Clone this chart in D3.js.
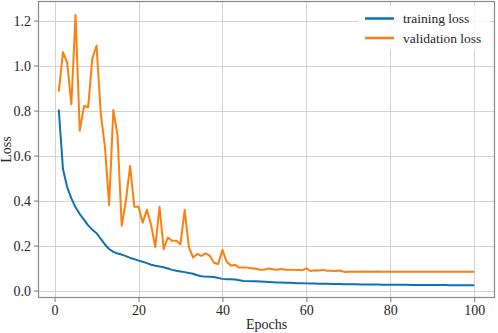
<!DOCTYPE html>
<html>
<head>
<meta charset="utf-8">
<script src="https://cdn.jsdelivr.net/npm/d3@7"></script>
<style>
  body { margin: 0; background: #fff; }
  text { font-family: "Liberation Serif", "Times New Roman", serif; }
</style>
</head>
<body>
<svg id="chart" width="498" height="333"></svg>
<script>
// training loss per epoch (1..100)
var trainLoss = [
  0.805, 0.54, 0.46, 0.41, 0.37, 0.34, 0.315, 0.29, 0.27, 0.255,
  0.23, 0.205, 0.185, 0.172, 0.165, 0.16, 0.153, 0.145, 0.14, 0.133,
  0.128, 0.122, 0.115, 0.11, 0.107, 0.104, 0.098, 0.092, 0.088, 0.085,
  0.082, 0.078, 0.075, 0.068, 0.064, 0.062, 0.061, 0.06, 0.056, 0.052,
  0.05, 0.05, 0.049, 0.046, 0.043, 0.042, 0.041, 0.041, 0.04, 0.039,
  0.038, 0.037, 0.036, 0.036, 0.035, 0.035, 0.034, 0.033, 0.033, 0.032,
  0.031, 0.031, 0.030, 0.030, 0.030, 0.029, 0.029, 0.029, 0.028, 0.028,
  0.028, 0.028, 0.027, 0.027, 0.027, 0.027, 0.027, 0.026, 0.026, 0.026,
  0.026, 0.026, 0.026, 0.026, 0.025, 0.025, 0.025, 0.025, 0.025, 0.025,
  0.025, 0.025, 0.025, 0.024, 0.024, 0.024, 0.024, 0.024, 0.024, 0.024
];
// validation loss per epoch (1..100)
var valLoss = [
  0.884, 1.06, 1.013, 0.828, 1.225, 0.71, 0.82, 0.815, 1.033, 1.088,
  0.788, 0.64, 0.38, 0.803, 0.69, 0.288, 0.40, 0.554, 0.373, 0.373,
  0.302, 0.359, 0.292, 0.193, 0.373, 0.184, 0.236, 0.221, 0.222, 0.206,
  0.359, 0.193, 0.147, 0.163, 0.154, 0.166, 0.154, 0.124, 0.118, 0.181,
  0.128, 0.111, 0.114, 0.102, 0.103, 0.102, 0.099, 0.097, 0.092, 0.093,
  0.098, 0.095, 0.093, 0.096, 0.092, 0.093, 0.092, 0.091, 0.09, 0.099,
  0.087, 0.09, 0.089, 0.092, 0.088, 0.088, 0.087, 0.089, 0.083, 0.084,
  0.084, 0.084, 0.084, 0.085, 0.084, 0.084, 0.085, 0.084, 0.084, 0.084,
  0.084, 0.084, 0.084, 0.084, 0.084, 0.084, 0.084, 0.084, 0.084, 0.084,
  0.084, 0.084, 0.084, 0.084, 0.084, 0.084, 0.084, 0.084, 0.084, 0.084
];
var epochs = d3.range(1, 101);
var xTicks = [0, 20, 40, 60, 80, 100];
var yTicks = [0.0, 0.2, 0.4, 0.6, 0.8, 1.0, 1.2];
var seriesNames = ["training loss", "validation loss"];
var seriesColors = ["#1071b5", "#ff7f0e"];

var svg = d3.select("#chart");
var pLeft = 38, pRight = 495, pTop = 1, pBottom = 298;
var serif = "'Liberation Serif', 'Times New Roman', serif";

var x = d3.scaleLinear().domain([-3.95, 104.95]).range([pLeft, pRight]);
var y = d3.scaleLinear().domain([-0.033, 1.287]).range([pBottom, pTop]);

// grid
var grid = svg.append("g").attr("stroke", "#d3d3d3").attr("stroke-width", 1);
grid.selectAll(".gx").data(xTicks).enter().append("line")
  .attr("x1", function(d) { return Math.round(x(d)) + 0.5; })
  .attr("x2", function(d) { return Math.round(x(d)) + 0.5; })
  .attr("y1", pTop).attr("y2", pBottom);
grid.selectAll(".gy").data(yTicks).enter().append("line")
  .attr("y1", function(d) { return Math.round(y(d)) + 0.5; })
  .attr("y2", function(d) { return Math.round(y(d)) + 0.5; })
  .attr("x1", pLeft).attr("x2", pRight);

// lines
var line = d3.line()
  .x(function(d, i) { return x(epochs[i]); })
  .y(function(d) { return y(d); });
[trainLoss, valLoss].forEach(function(s, k) {
  svg.append("path").datum(s)
    .attr("d", line)
    .attr("fill", "none")
    .attr("stroke", seriesColors[k])
    .attr("stroke-width", 2)
    .attr("stroke-linejoin", "round");
});

// axes
var xAxis = d3.axisBottom(x).tickValues(xTicks).tickFormat(d3.format("d")).tickSize(4).tickPadding(3);
var yAxis = d3.axisLeft(y).tickValues(yTicks).tickFormat(d3.format(".1f")).tickSize(4).tickPadding(3);
var gx = svg.append("g").attr("transform", "translate(0," + pBottom + ")").call(xAxis);
var gy = svg.append("g").attr("transform", "translate(" + pLeft + ",0)").call(yAxis);
[gx, gy].forEach(function(g) {
  g.attr("font-family", serif).attr("font-size", 14);
  g.select(".domain").remove();
  g.selectAll(".tick line").attr("stroke", "#777");
  g.selectAll(".tick text").attr("fill", "#262626");
});

// frame
svg.append("rect")
  .attr("x", pLeft + 0.5).attr("y", pTop + 0.5)
  .attr("width", pRight - pLeft - 1).attr("height", pBottom - pTop - 1)
  .attr("fill", "none").attr("stroke", "#888").attr("stroke-width", 1.2);

// axis labels
svg.append("text").attr("x", (pLeft + pRight) / 2).attr("y", 329)
  .attr("text-anchor", "middle").attr("font-family", serif).attr("font-size", 14)
  .attr("fill", "#262626").text("Epochs");
svg.append("text").attr("transform", "translate(11," + ((pTop + pBottom) / 2) + ") rotate(-90)")
  .attr("text-anchor", "middle").attr("font-family", serif).attr("font-size", 14)
  .attr("fill", "#262626").text("Loss");

// legend
var lg = svg.append("g");
lg.append("rect").attr("x", 358).attr("y", 6).attr("width", 132).attr("height", 44)
  .attr("fill", "#fff").attr("fill-opacity", 0.8);
seriesNames.forEach(function(n, i) {
  var yy = 18.5 + i * 19.5;
  lg.append("line").attr("x1", 365).attr("x2", 394).attr("y1", yy).attr("y2", yy)
    .attr("stroke", seriesColors[i]).attr("stroke-width", 2.5);
  lg.append("text").attr("x", 403).attr("y", yy + 4.5)
    .attr("font-family", serif).attr("font-size", 13.5)
    .attr("fill", "#262626").text(n);
});
</script>
</body>
</html>
